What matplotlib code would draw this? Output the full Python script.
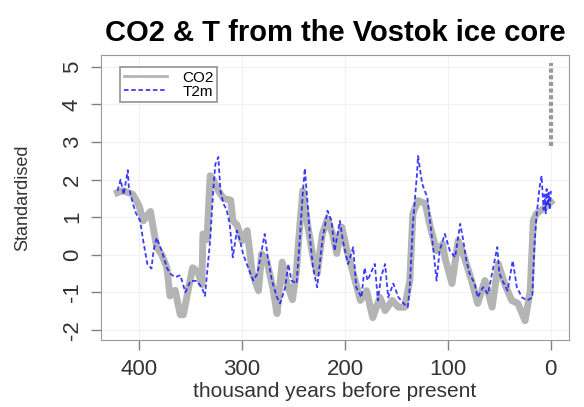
import matplotlib.pyplot as plt

# CO2 (standardised)
co2_age = [421, 416, 410, 406, 400, 396, 389, 383, 378, 373, 370, 365, 360, 357,
           352, 348, 343, 339, 338, 334, 331, 328, 323, 318, 311, 309, 305, 300,
           295, 290, 284, 281, 276, 270, 266, 261, 256, 251, 247, 245, 241, 236,
           231, 227, 222, 217, 212, 208, 203, 198, 192, 185, 179, 173, 166, 161,
           154, 148, 142, 137, 134, 129, 122, 117, 111, 105, 103, 96, 90, 84, 77,
           71, 64, 57, 51, 45, 38, 32, 25, 20, 17, 14, 6, 0]
co2_val = [1.65, 1.7, 1.65, 1.6, 1.3, 0.9, 1.15, 0.2, 0.0, -0.35, -1.1, -0.95, -1.6, -1.6,
           -0.9, -0.35, -0.45, -0.8, 0.55, 0.4, 2.1, 2.0, 1.7, 1.5, 1.45, 0.9, 0.8, 0.37,
           0.64, -0.5, -0.96, 0.02, -0.16, -0.9, -1.57, -0.2, -0.8, -1.2, -0.4, 0.37, 1.7, 0.75,
           -0.07, -0.5, 0.55, 0.95, 0.55, 0.03, 0.73, 0.1, -0.5, -1.22, -0.96, -1.68, -1.14, -1.49,
           -1.22, -1.4, -1.4, -0.7, 1.09, 1.44, 1.36, 0.73, 0.1, 0.28, -0.07, -0.77, 0.37, -0.07, -0.69,
           -1.3, -0.69, -1.4, -0.25, -0.77, -1.22, -1.3, -1.76, -0.96, 0.9, 1.09, 1.25, 1.4]

# modern CO2 values plotted at year 0
co2_now_age = [0, 0]
co2_now_val = [2.9, 5.1]

# T2m (standardised)
t_age = [421, 418, 415, 411, 410, 406, 403, 399, 396, 392, 388, 386, 383, 378, 373,
         370, 365, 360, 355, 350, 344, 339, 336, 334, 331, 328, 326, 323, 321, 318,
         315, 312, 309, 305, 302, 299, 294, 289, 285, 281, 278, 275, 271, 266, 263,
         258, 255, 252, 247, 244, 241, 239, 236, 234, 231, 227, 222, 217, 213, 210,
         205, 202, 197, 192, 189, 184, 181, 178, 175, 171, 168, 165, 161, 158, 153,
         148, 143, 139, 137, 134, 130, 129, 125, 120, 117, 114, 111, 108, 103, 98,
         93, 88, 85, 82, 79, 74, 71, 66, 61, 56, 52, 50, 47, 42, 37,
         33, 28, 23, 18, 16, 14, 11, 9, 7, 6, 5, 4, 3, 2, 1, 0]
t_val = [1.7, 2.0, 1.6, 2.25, 1.8, 1.35, 1.1, 0.9, 0.37, -0.25, -0.37, 0.1, 0.45, 0.1, -0.35,
         -0.5, -0.6, -0.55, -1.0, -0.7, -0.7, -0.88, -1.1, -0.5, 0.37, 1.7, 2.4, 2.6, 1.7, 1.35,
         1.2, 0.82, -0.07, 0.64, 0.37, 0.02, -0.35, -0.69, -0.5, 0.1, 0.55, -0.07, -0.69, -1.14, -1.3,
         -0.87, -0.25, -0.69, -0.77, 0.37, 1.62, 2.3, 1.25, 0.45, -0.35, -0.87, 0.37, 1.17, 0.9, 0.1,
         0.9, 0.37, -0.25, 0.2, -0.87, -1.14, -0.35, -0.69, -0.5, -0.25, -1.22, -0.6, -0.25, -1.14, -0.77,
         -1.14, -1.3, -1.4, -0.87, 0.82, 2.15, 2.63, 1.89, 1.52, 0.82, 0.1, -0.69, 0.1, 0.55, 0.1,
         -0.07, 0.82, 0.37, -0.16, -0.5, -0.77, -1.14, -0.87, -1.05, -0.35, 0.2, -0.5, -0.69, -0.96, -0.16,
         -0.87, -1.14, -1.22, -1.14, 0.2, 1.0, 1.78, 2.1, 1.2, 1.6, 1.1, 1.75, 1.3, 1.65, 1.2, 1.7]

xticks = [400, 300, 200, 100, 0]
yticks = [-2, -1, 0, 1, 2, 3, 4, 5]

plt.rcParams['font.family'] = ['Liberation Sans', 'DejaVu Sans']
plt.rcParams['axes.unicode_minus'] = False
fig = plt.figure(figsize=(5.84, 4.07), dpi=100)
ax = fig.add_axes([0.173, 0.165, 0.801, 0.700])

ax.grid(True, color='#f1f1f1', lw=0.8)
ax.set_axisbelow(True)

ax.plot(co2_age, co2_val, color='#b4b4b4', lw=5, label='CO2')
ax.plot(co2_now_age, co2_now_val, color='#9a9a9a', lw=3, ls=(0, (1, 0.6)))
ax.plot(t_age, t_val, color='#1a1aff', lw=1.3, ls=(0, (2.5, 1.5)), alpha=0.85, label='T2m')

ax.set_xlim(437, -17.5)
ax.set_ylim(-2.27, 5.32)
ax.set_xticks(xticks)
ax.set_yticks(yticks)
ax.tick_params(axis='both', colors='#808080', length=7, width=1, labelcolor='#333333', labelsize=16)
ax.tick_params(axis='x', pad=7)
ax.tick_params(axis='y', pad=6)
for lab in ax.get_yticklabels():
    lab.set_rotation(90)
    lab.set_va('center')
for s in ax.spines.values():
    s.set_color('#999999')

ax.set_xlabel('thousand years before present', fontsize=15, color='#333333', labelpad=1)
ax.set_ylabel('Standardised', fontsize=13, color='#333333', labelpad=22)
ax.set_title('CO2 & T from the Vostok ice core', fontsize=21, fontweight='bold', pad=10)

leg = ax.legend(loc='upper left', bbox_to_anchor=(0.025, 0.985), fontsize=11, frameon=True,
                fancybox=False, edgecolor='#777777', handlelength=2.8, borderpad=0.25,
                labelspacing=0.0, handletextpad=1.0)
leg.get_lines()[0].set_linewidth(2)
leg.get_frame().set_linewidth(1.2)

fig.savefig('out.png', dpi=100)
